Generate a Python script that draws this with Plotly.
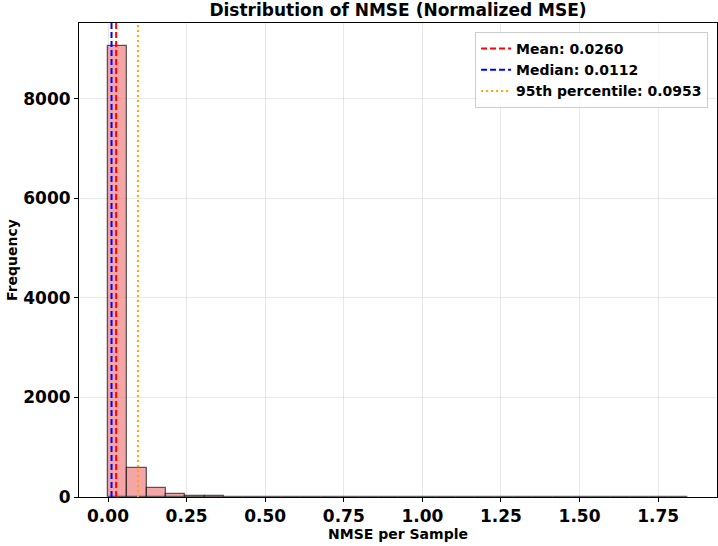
import plotly.graph_objects as go

# ---- data ----
bin_start = 0.0
bin_end = 1.845
counts = [9070, 590, 175, 60, 27, 14, 9, 6, 4, 3, 2, 2, 1, 1, 1, 0, 1, 0, 0, 0, 0, 0, 0, 0, 0, 0, 0, 0, 0, 1]
mean_val = 0.0260
median_val = 0.0112
p95_val = 0.0953
x_ticks = [0.0, 0.25, 0.5, 0.75, 1.0, 1.25, 1.5, 1.75]
y_ticks = [0, 2000, 4000, 6000, 8000]

n_bins = len(counts)
width = (bin_end - bin_start) / n_bins
centers = [bin_start + width * (i + 0.5) for i in range(n_bins)]
pad = 0.05 * (bin_end - bin_start)
ytop = max(counts) * 1.05

FONT = "DejaVu Sans"

fig = go.Figure()
fig.add_trace(go.Bar(
    x=centers, y=counts, width=width,
    marker=dict(color="rgba(240,128,128,0.7)", line=dict(color="rgba(0,0,0,0.6)", width=1.3)),
    showlegend=False, hoverinfo="skip",
))
fig.add_trace(go.Scatter(x=[mean_val, mean_val], y=[0, ytop], mode="lines",
                         line=dict(color="red", width=2, dash="6px,3px"),
                         name=f"<b>Mean: {mean_val:.4f}</b>"))
fig.add_trace(go.Scatter(x=[median_val, median_val], y=[0, ytop], mode="lines",
                         line=dict(color="blue", width=2, dash="6px,3px"),
                         name=f"<b>Median: {median_val:.4f}</b>"))
fig.add_trace(go.Scatter(x=[p95_val, p95_val], y=[0, ytop], mode="lines",
                         line=dict(color="orange", width=2, dash="2px,3px"),
                         name=f"<b>95th percentile: {p95_val:.4f}</b>"))

fig.update_layout(
    width=718, height=546,
    margin=dict(l=79, r=1, t=23, b=49, autoexpand=False),
    paper_bgcolor="white", plot_bgcolor="white",
    font=dict(family=FONT, color="black"),
    title=dict(text="<b>Distribution of NMSE (Normalized MSE)</b>", x=(79 + 717) / 2 / 718, xanchor="center",
               y=1 - 10 / 546, yanchor="middle", font=dict(size=17, family=FONT)),
    bargap=0,
    legend=dict(x=0.986, xanchor="right", y=0.981, yanchor="top",
                bgcolor="rgba(255,255,255,0.8)", bordercolor="#cccccc", borderwidth=1,
                font=dict(size=14, family=FONT), tracegroupgap=0),
    xaxis=dict(range=[bin_start - pad, bin_end + pad], tickvals=x_ticks,
               ticktext=[f"<b>{v:.2f}</b>" for v in x_ticks],
               showgrid=True, gridcolor="rgba(0,0,0,0.09)", gridwidth=1,
               showline=True, linecolor="black", linewidth=1, mirror=True,
               ticks="outside", ticklen=4, tickcolor="black", zeroline=False,
               tickfont=dict(size=17, family=FONT), automargin=False,
               title=dict(text="<b>NMSE per Sample</b>", font=dict(size=14, family=FONT), standoff=2)),
    yaxis=dict(range=[0, ytop], tickvals=y_ticks,
               ticktext=[f"<b>{v}</b>" for v in y_ticks],
               showgrid=True, gridcolor="rgba(0,0,0,0.09)", gridwidth=1,
               showline=True, linecolor="black", linewidth=1, mirror=True,
               ticks="outside", ticklen=4, tickcolor="black", zeroline=False,
               tickfont=dict(size=17, family=FONT), automargin=False,
               title=dict(text="<b>Frequency</b>", font=dict(size=14, family=FONT), standoff=2)),
)

fig.write_html("out.html", config={"displayModeBar": False},
               post_script="document.body.style.margin='0';document.body.style.overflow='hidden';")
